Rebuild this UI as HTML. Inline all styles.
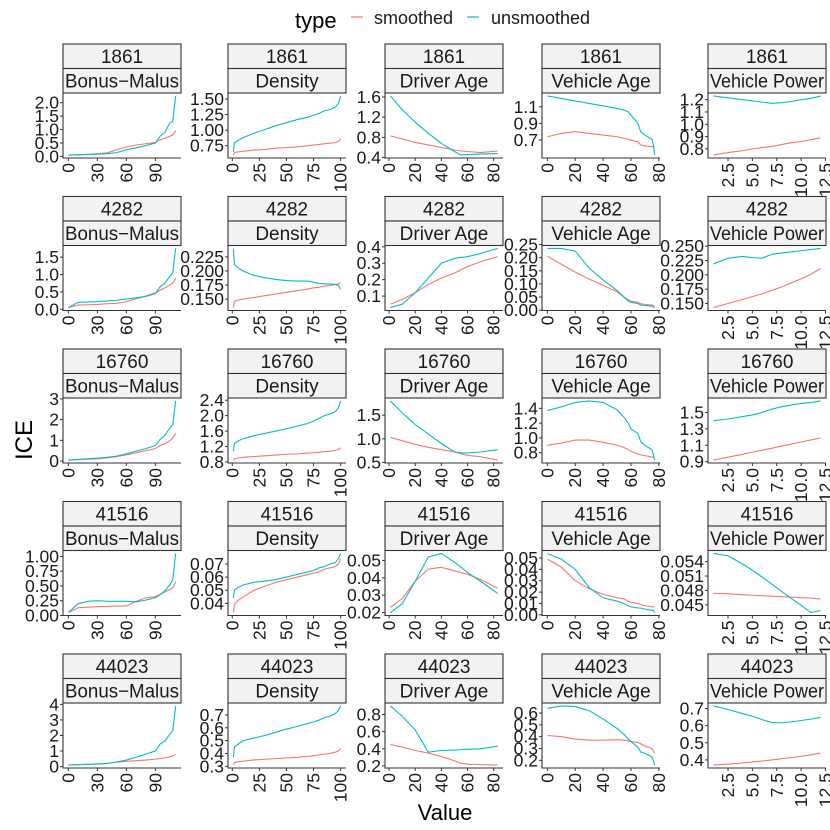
<!DOCTYPE html>
<html><head><meta charset="utf-8">
<style>
html,body{margin:0;padding:0;background:#fff;}
svg{display:block;font-family:"Liberation Sans",Arial,sans-serif;}
</style></head>
<body>
<svg id="chart" width="830" height="830" viewBox="0 0 830 830">
  <rect width="830" height="830" fill="#fff"/>
  <g>
    <text x="295" y="28" font-size="22" fill="#000">type</text>
    <line x1="351" y1="17" x2="363" y2="17" stroke="#F8766D" stroke-width="1.2"/>
    <text x="374" y="24" font-size="18" fill="#1a1a1a">smoothed</text>
    <line x1="467" y1="17" x2="479" y2="17" stroke="#00BFC4" stroke-width="1.2"/>
    <text x="491" y="24" font-size="18" fill="#1a1a1a">unsmoothed</text>
  </g>
  <text transform="translate(32,440) rotate(-90)" text-anchor="middle" font-size="24" fill="#000">ICE</text>
  <text x="445" y="820" text-anchor="middle" font-size="22" fill="#000">Value</text>
  <g id="panels"></g>
</svg>
<script>
// ---- data ----
const ids = ["1861","4282","16760","41516","44023"];
const features = ["Bonus\u2212Malus","Density","Driver Age","Vehicle Age","Vehicle Power"];
const xBM = [0,10,20,30,40,50,60,70,80,90,95,100,105,108,111];
const xDens = [1,2,5,10,20,30,40,50,60,70,75,80,85,90,95,98,100];
const xDA = [1,10,20,30,40,50,55,60,70,83];
const xVA = [0,10,20,30,40,50,55,58,60,65,67,70,75,76,77];
const xVP = [1,2.5,4,5,6,7,8,9,10,11,12];
const xTicksBM = [0,30,60,90];
const xTicksDens = [0,25,50,75,100];
const xTicksDA = [0,20,40,60,80];
const xTicksVA = [0,20,40,60,80];
const xTicksVP = [2.5,5,7.5,10,12.5];
const xTickLabelsVP = ["2.5","5.0","7.5","10.0","12.5"];

// row 1861
const u1861BM = [0.05,0.06,0.07,0.08,0.1,0.14,0.25,0.32,0.4,0.5,0.75,0.9,1.25,1.3,2.25];
const s1861BM = [0.05,0.06,0.08,0.1,0.13,0.25,0.35,0.42,0.47,0.52,0.62,0.68,0.75,0.8,0.95];
const u1861Dens = [0.65,0.8,0.83,0.88,0.95,1.01,1.07,1.12,1.17,1.21,1.24,1.27,1.31,1.33,1.37,1.43,1.55];
const s1861Dens = [0.6,0.64,0.65,0.66,0.68,0.69,0.71,0.72,0.73,0.75,0.76,0.77,0.78,0.79,0.8,0.82,0.86];
const u1861DA = [1.62,1.35,1.1,0.88,0.68,0.52,0.45,0.46,0.47,0.48];
const s1861DA = [0.83,0.77,0.7,0.65,0.6,0.55,0.53,0.52,0.5,0.53];
const u1861VA = [1.23,1.2,1.17,1.14,1.11,1.08,1.06,1.04,1.0,0.9,0.8,0.76,0.71,0.65,0.52];
const s1861VA = [0.74,0.78,0.8,0.78,0.76,0.74,0.72,0.71,0.7,0.68,0.64,0.63,0.62,0.62,0.62];
const u1861VP = [1.23,1.215,1.2,1.19,1.18,1.17,1.175,1.185,1.2,1.21,1.23];
const s1861VP = [0.75,0.77,0.785,0.8,0.81,0.82,0.835,0.85,0.86,0.875,0.89];
// row 4282
const u4282BM = [0.05,0.2,0.21,0.22,0.24,0.26,0.29,0.33,0.37,0.45,0.65,0.75,0.95,1.05,1.75];
const s4282BM = [0.05,0.12,0.13,0.14,0.16,0.17,0.22,0.3,0.38,0.47,0.55,0.62,0.7,0.75,0.9];
const u4282Dens = [0.24,0.212,0.206,0.2,0.192,0.188,0.185,0.183,0.182,0.182,0.18,0.178,0.177,0.177,0.176,0.174,0.167];
const s4282Dens = [0.135,0.146,0.148,0.15,0.153,0.156,0.159,0.162,0.165,0.168,0.17,0.171,0.173,0.174,0.176,0.177,0.179];
const u4282DA = [0.03,0.05,0.12,0.21,0.3,0.33,0.335,0.34,0.36,0.39];
const s4282DA = [0.05,0.08,0.12,0.17,0.21,0.24,0.26,0.28,0.31,0.34];
const u4282VA = [0.235,0.235,0.225,0.16,0.115,0.075,0.05,0.035,0.03,0.025,0.02,0.018,0.015,0.013,0.01];
const s4282VA = [0.205,0.175,0.145,0.118,0.095,0.07,0.05,0.04,0.035,0.03,0.025,0.022,0.02,0.018,0.015];
const u4282VP = [0.219,0.229,0.232,0.23,0.229,0.236,0.238,0.24,0.242,0.244,0.246];
const s4282VP = [0.143,0.15,0.157,0.162,0.167,0.173,0.179,0.186,0.193,0.201,0.211];
// row 16760
const u16760BM = [0.05,0.08,0.11,0.14,0.18,0.24,0.35,0.48,0.6,0.75,1.05,1.25,1.6,1.75,2.9];
const s16760BM = [0.05,0.07,0.09,0.11,0.15,0.22,0.3,0.4,0.5,0.6,0.75,0.85,0.98,1.1,1.35];
const u16760Dens = [1.08,1.28,1.34,1.4,1.48,1.54,1.6,1.66,1.73,1.8,1.86,1.93,2.0,2.04,2.1,2.2,2.38];
const s16760Dens = [0.85,0.88,0.9,0.92,0.94,0.96,0.98,1.0,1.01,1.03,1.04,1.05,1.07,1.08,1.1,1.12,1.17];
const u16760DA = [1.8,1.55,1.3,1.1,0.9,0.72,0.7,0.7,0.72,0.77];
const s16760DA = [1.03,0.96,0.88,0.82,0.77,0.72,0.68,0.65,0.62,0.55];
const u16760VA = [1.37,1.42,1.48,1.5,1.48,1.38,1.28,1.2,1.12,1.06,0.95,0.9,0.84,0.78,0.7];
const s16760VA = [0.9,0.93,0.97,0.97,0.94,0.9,0.87,0.84,0.82,0.78,0.77,0.76,0.74,0.74,0.73];
const u16760VP = [1.4,1.42,1.45,1.47,1.5,1.54,1.57,1.59,1.61,1.62,1.64];
const s16760VP = [0.92,0.955,0.99,1.015,1.04,1.065,1.09,1.115,1.14,1.165,1.19];
// row 41516
const u41516BM = [0.05,0.2,0.24,0.25,0.24,0.24,0.24,0.23,0.26,0.3,0.35,0.42,0.52,0.6,1.05];
const s41516BM = [0.05,0.13,0.14,0.15,0.155,0.16,0.16,0.24,0.3,0.32,0.36,0.4,0.44,0.47,0.57];
const u41516Dens = [0.044,0.05,0.052,0.054,0.056,0.057,0.058,0.06,0.062,0.064,0.065,0.067,0.068,0.07,0.071,0.074,0.078];
const s41516Dens = [0.033,0.039,0.042,0.045,0.05,0.053,0.056,0.058,0.06,0.062,0.063,0.064,0.066,0.067,0.068,0.07,0.074];
const u41516DA = [0.02,0.025,0.038,0.052,0.054,0.049,0.046,0.043,0.038,0.031];
const s41516DA = [0.023,0.028,0.038,0.045,0.046,0.044,0.043,0.042,0.039,0.034];
const u41516VA = [0.054,0.049,0.04,0.024,0.015,0.012,0.01,0.008,0.007,0.006,0.006,0.005,0.004,0.004,0.002];
const s41516VA = [0.049,0.042,0.03,0.023,0.018,0.015,0.014,0.012,0.011,0.01,0.009,0.008,0.007,0.007,0.007];
const u41516VP = [0.0557,0.0552,0.0535,0.0522,0.0508,0.0493,0.0478,0.0463,0.0449,0.0434,0.0438];
const s41516VP = [0.0474,0.0473,0.0471,0.047,0.0469,0.0468,0.0467,0.0466,0.0465,0.0464,0.0462];
// row 44023
const u44023BM = [0.1,0.13,0.15,0.17,0.2,0.3,0.42,0.6,0.8,1.0,1.45,1.65,2.1,2.3,3.9];
const s44023BM = [0.1,0.12,0.14,0.16,0.2,0.28,0.34,0.38,0.42,0.48,0.52,0.57,0.63,0.68,0.8];
const u44023Dens = [0.37,0.45,0.47,0.5,0.52,0.54,0.565,0.59,0.61,0.635,0.645,0.66,0.68,0.69,0.71,0.735,0.77];
const s44023Dens = [0.31,0.33,0.335,0.34,0.35,0.355,0.36,0.365,0.37,0.378,0.382,0.39,0.395,0.4,0.41,0.42,0.44];
const u44023DA = [0.9,0.78,0.62,0.36,0.38,0.385,0.39,0.395,0.4,0.43];
const s44023DA = [0.45,0.42,0.38,0.35,0.31,0.26,0.23,0.22,0.215,0.21];
const u44023VA = [0.64,0.66,0.655,0.62,0.55,0.47,0.42,0.38,0.36,0.31,0.27,0.26,0.23,0.2,0.16];
const s44023VA = [0.41,0.4,0.38,0.37,0.37,0.375,0.37,0.365,0.36,0.35,0.34,0.32,0.3,0.28,0.26];
const u44023VP = [0.715,0.695,0.67,0.655,0.635,0.618,0.617,0.622,0.63,0.638,0.648];
const s44023VP = [0.37,0.375,0.382,0.388,0.394,0.4,0.407,0.414,0.421,0.43,0.44];

// y ticks per row/feature
const yTicks1861 = [[0,0.5,1,1.5,2],[0.75,1,1.25,1.5],[0.4,0.8,1.2,1.6],[0.7,0.9,1.1],[0.8,0.9,1.0,1.1,1.2]];
const yTicks4282 = [[0,0.5,1,1.5],[0.15,0.175,0.2,0.225],[0.1,0.2,0.3,0.4],[0,0.05,0.1,0.15,0.2,0.25],[0.15,0.175,0.2,0.225,0.25]];
const yTicks16760 = [[0,1,2,3],[0.8,1.2,1.6,2.0,2.4],[0.5,1,1.5],[0.8,1,1.2,1.4],[0.9,1.1,1.3,1.5]];
const yTicks41516 = [[0,0.25,0.5,0.75,1],[0.04,0.05,0.06,0.07],[0.02,0.03,0.04,0.05],[0,0.01,0.02,0.03,0.04,0.05],[0.045,0.048,0.051,0.054]];
const yTicks44023 = [[0,1,2,3,4],[0.3,0.4,0.5,0.6,0.7],[0.2,0.4,0.6,0.8],[0.2,0.3,0.4,0.5,0.6],[0.4,0.5,0.6,0.7]];
const yDecimals1861 = [1,2,1,1,1];
const yDecimals4282 = [1,3,1,2,3];
const yDecimals16760 = [0,1,1,1,1];
const yDecimals41516 = [2,2,2,2,3];
const yDecimals44023 = [0,1,1,1,1];

// ---- layout ----
const colLeft = [63,228,385,542,708];
const panelW = 118;
const rowTop = [44,196.5,349,501.5,654];
const stripH = 24.5;
const plotOffset = 49;
const plotH = 65;
const RED = "#F8766D", TEAL = "#00BFC4";
const NS = "http://www.w3.org/2000/svg";

const xGrids = [xBM,xDens,xDA,xVA,xVP];
const xTickSets = [xTicksBM,xTicksDens,xTicksDA,xTicksVA,xTicksVP];
const unsm = {"1861":[u1861BM,u1861Dens,u1861DA,u1861VA,u1861VP],"4282":[u4282BM,u4282Dens,u4282DA,u4282VA,u4282VP],"16760":[u16760BM,u16760Dens,u16760DA,u16760VA,u16760VP],"41516":[u41516BM,u41516Dens,u41516DA,u41516VA,u41516VP],"44023":[u44023BM,u44023Dens,u44023DA,u44023VA,u44023VP]};
const smo = {"1861":[s1861BM,s1861Dens,s1861DA,s1861VA,s1861VP],"4282":[s4282BM,s4282Dens,s4282DA,s4282VA,s4282VP],"16760":[s16760BM,s16760Dens,s16760DA,s16760VA,s16760VP],"41516":[s41516BM,s41516Dens,s41516DA,s41516VA,s41516VP],"44023":[s44023BM,s44023Dens,s44023DA,s44023VA,s44023VP]};
const yTickAll = {"1861":yTicks1861,"4282":yTicks4282,"16760":yTicks16760,"41516":yTicks41516,"44023":yTicks44023};
const yDecAll = {"1861":yDecimals1861,"4282":yDecimals4282,"16760":yDecimals16760,"41516":yDecimals41516,"44023":yDecimals44023};
const featKey = ["bonus-malus","density","driver-age","vehicle-age","vehicle-power"];

function mk(tag, attrs, parent){
  const e = document.createElementNS(NS, tag);
  for (const k in attrs) e.setAttribute(k, attrs[k]);
  parent.appendChild(e);
  return e;
}
function scale(d0,d1,r0,r1){ return v => r0 + (v-d0)/(d1-d0)*(r1-r0); }
function fmt(v,d){ return v.toFixed(d); }

const root = document.getElementById("panels");
ids.forEach((id, r) => {
  features.forEach((feat, c) => {
    const g = mk("g", {}, root);
    
    
    const L = colLeft[c], T = rowTop[r], PT = T + plotOffset, PB = PT + plotH;
    const s1 = mk("rect", {x:L, y:T, width:panelW, height:stripH, fill:"#F2F2F2", stroke:"#333", "stroke-width":1.1}, g);
    
    
    const t1 = mk("text", {x:L+panelW/2, y:T+19, "text-anchor":"middle", "font-size":19, fill:"#1a1a1a"}, g);
    t1.textContent = id;
    
    
    const s2 = mk("rect", {x:L, y:T+stripH, width:panelW, height:stripH, fill:"#F2F2F2", stroke:"#333", "stroke-width":1.1}, g);
    
    
    const t2 = mk("text", {x:L+panelW/2, y:T+stripH+19, "text-anchor":"middle", "font-size":19, textLength: (c===0||c===4) ? 114 : null, fill:"#1a1a1a"}, g);
    if (!(c===0||c===4)) t2.removeAttribute("textLength");
    else t2.setAttribute("lengthAdjust","spacingAndGlyphs");
    t2.textContent = feat;
    
    

    const xs = xGrids[c], u = unsm[id][c], s = smo[id][c];
    const xmin = Math.min(...xs), xmax = Math.max(...xs);
    const all = u.concat(s);
    const ymin = Math.min(...all), ymax = Math.max(...all);
    const xe = (xmax-xmin)*0.05, ye = (ymax-ymin)*0.05;
    const X = scale(xmin-xe, xmax+xe, L, L+panelW);
    const Y = scale(ymin-ye, ymax+ye, PB, PT);

    const ax = mk("path", {d:`M${L},${PT} V${PB} H${L+panelW}`, fill:"none", stroke:"#333", "stroke-width":1.1}, g);
    
    
    const yt = yTickAll[id][c], yd = yDecAll[id][c];
    yt.forEach(v => {
      const y = Y(v);
      const tk = mk("line", {x1:L-3, x2:L, y1:y, y2:y, stroke:"#333", "stroke-width":1}, g);
      
      
      const tl = mk("text", {x:L-4, y:y+6, "text-anchor":"end", "font-size":17.5, fill:"#1a1a1a"}, g);
      tl.textContent = fmt(v, yd);
      
      
    });
    xTickSets[c].forEach((v, i) => {
      const x = X(v);
      const tk = mk("line", {x1:x, x2:x, y1:PB, y2:PB+3, stroke:"#333", "stroke-width":1}, g);
      
      
      const tl = mk("text", {transform:`translate(${x+6},${PB+5}) rotate(-90)`, "text-anchor":"end", "font-size":17.5, fill:"#1a1a1a"}, g);
      tl.textContent = c === 4 ? xTickLabelsVP[i] : String(v);
      
      
    });
    const dS = xs.map((x,i) => (i?"L":"M") + X(x).toFixed(2) + "," + Y(s[i]).toFixed(2)).join(" ");
    const lS = mk("path", {d:dS, fill:"none", stroke:RED, "stroke-width":1.1}, g);
    
    
    const dU = xs.map((x,i) => (i?"L":"M") + X(x).toFixed(2) + "," + Y(u[i]).toFixed(2)).join(" ");
    const lU = mk("path", {d:dU, fill:"none", stroke:TEAL, "stroke-width":1.1}, g);
    
    
  });
});
</script>
</body></html>
